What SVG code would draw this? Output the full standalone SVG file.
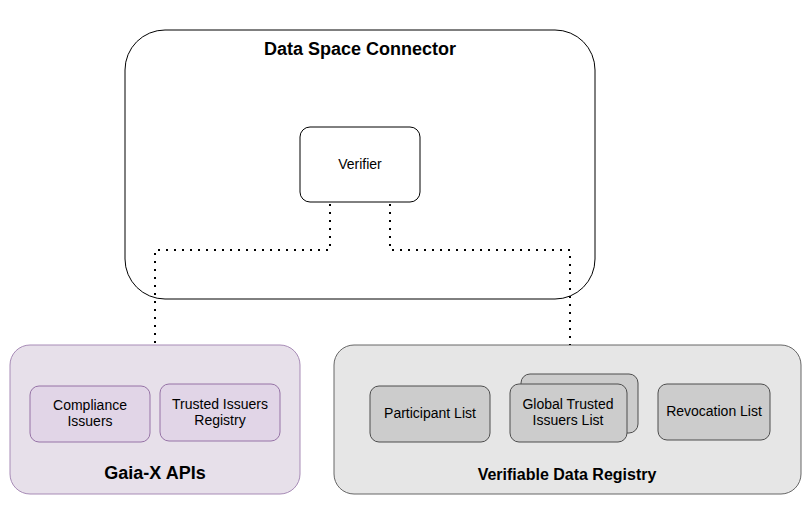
<svg xmlns="http://www.w3.org/2000/svg" width="812" height="506" viewBox="0 0 812 506">
<style>
text{font-family:"Liberation Sans",Arial,sans-serif;fill:#000;text-anchor:middle}
.t{font-size:14px}
.b{font-weight:bold}
.conn{fill:none;stroke:#000;stroke-width:2;stroke-dasharray:2 6}
.purple{fill:#e1d5e7;stroke:#9673a6;stroke-width:1}
.gray{fill:#cccccc;stroke:#4d4d4d;stroke-width:1}
</style>
<rect width="812" height="506" fill="#ffffff"/>
<g id="dsc">
<rect x="125" y="30" width="470" height="269" rx="40" ry="40" fill="#ffffff" stroke="#000" stroke-width="1"/>
<text x="360" y="55" class="b" font-size="18">Data Space Connector</text>
</g>
<g id="gaia">
<rect x="10" y="345" width="290" height="149" rx="20" ry="20" fill="#e7e0ea" stroke="#a78bb6" stroke-width="1"/>
<text x="155" y="479" class="b" font-size="18">Gaia-X APIs</text>
</g>
<g id="vdr">
<rect x="334" y="345" width="467" height="149" rx="20" ry="20" fill="#e6e6e6" stroke="#666666" stroke-width="1"/>
<text x="567" y="480" class="b" font-size="16">Verifiable Data Registry</text>
</g>
<g id="connectors">
<polyline class="conn" points="330,204 330,250 155,250 155,345"/>
<polyline class="conn" points="390,204 390,250 570,250 570,345"/>
</g>
<g id="verifier">
<rect x="300" y="127" width="120" height="75" rx="10" ry="10" fill="#ffffff" stroke="#000" stroke-width="1"/>
<text x="360" y="169" class="t">Verifier</text>
</g>
<g id="compliance">
<rect x="30" y="386" width="120" height="56" rx="9" ry="9" class="purple"/>
<text x="90" y="410" class="t">Compliance</text>
<text x="90" y="426" class="t">Issuers</text>
</g>
<g id="tir">
<rect x="160" y="384" width="120" height="57" rx="9" ry="9" class="purple"/>
<text x="220" y="409" class="t">Trusted Issuers</text>
<text x="220" y="425" class="t">Registry</text>
</g>
<g id="participant">
<rect x="370" y="386" width="120" height="56" rx="9" ry="9" class="gray"/>
<text x="430" y="418" class="t">Participant List</text>
</g>
<g id="gtil">
<rect x="521" y="374" width="117" height="59" rx="9" ry="9" class="gray"/>
<rect x="510" y="384" width="117" height="58" rx="9" ry="9" class="gray"/>
<text x="568" y="409" class="t">Global Trusted</text>
<text x="568" y="425" class="t">Issuers List</text>
</g>
<g id="revocation">
<rect x="658" y="384" width="112" height="56" rx="9" ry="9" class="gray"/>
<text x="714" y="416" class="t">Revocation List</text>
</g>
</svg>
